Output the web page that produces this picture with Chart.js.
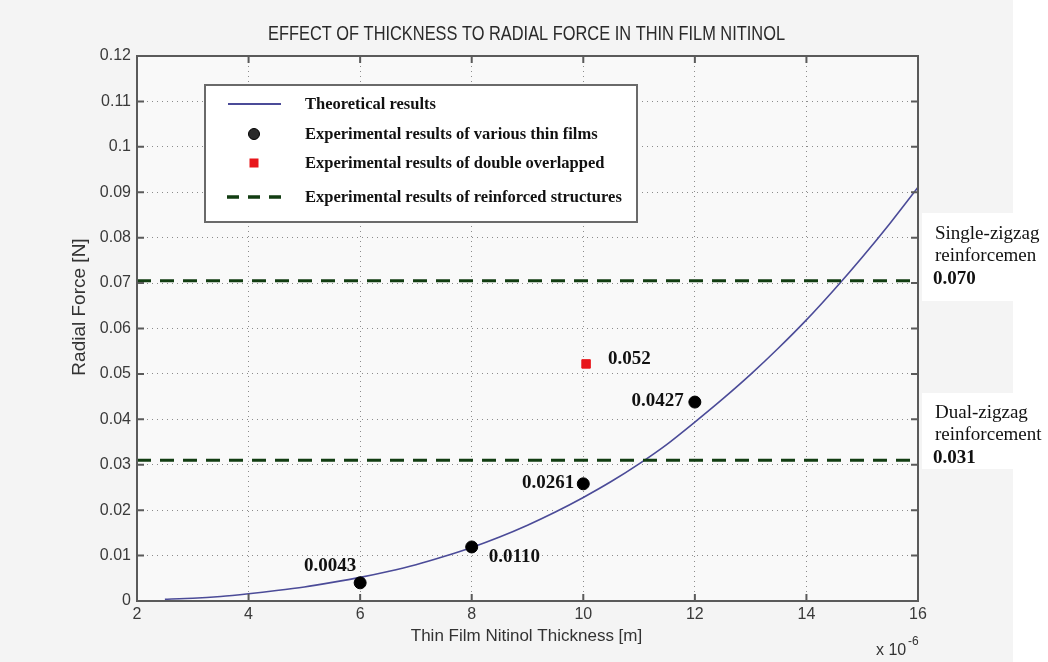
<!DOCTYPE html>
<html>
<head>
<meta charset="utf-8">
<script src="https://cdn.jsdelivr.net/npm/chart.js@4.4.1/dist/chart.umd.min.js"></script>
<style>
  html, body { margin: 0; padding: 0; background: #f4f4f4; }
  #c { display: block; }
</style>
</head>
<body>
<canvas id="c" width="1048" height="662"></canvas>
<script>
// ---------- data ----------
const chartTitle = 'EFFECT OF THICKNESS TO RADIAL FORCE IN THIN FILM NITINOL';
const xAxisTitle = 'Thin Film Nitinol Thickness [m]';
const yAxisTitle = 'Radial Force [N]';
const xExponent = '-6';

const xTickLabels = ['2', '4', '6', '8', '10', '12', '14', '16'];
const yTickLabels = ['0', '0.01', '0.02', '0.03', '0.04', '0.05', '0.06', '0.07', '0.08', '0.09', '0.1', '0.11', '0.12'];

// Theoretical curve (thickness in µm, force in N)
const theoryX = [2.5, 3, 3.5, 4, 4.5, 5, 5.5, 6, 6.5, 7, 7.5, 8, 8.5, 9, 9.5, 10, 10.5, 11, 11.5, 12, 12.5, 13, 13.5, 14, 14.5, 15, 15.5, 16];
const theoryY = [0.0004, 0.0006, 0.0010, 0.0016, 0.0023, 0.0031, 0.0041, 0.0052, 0.0065, 0.0080, 0.0098, 0.0118, 0.0141, 0.0167, 0.0196, 0.0228, 0.0263, 0.0302, 0.0345, 0.0394, 0.0445, 0.0499, 0.0557, 0.0619, 0.0686, 0.0757, 0.0832, 0.0911];

// Experimental results of various thin films
const filmX = [6, 8, 10, 12];
const filmY = [0.0040, 0.0119, 0.0258, 0.0438];
const filmLabels = ['0.0043', '0.0110', '0.0261', '0.0427'];

// Experimental result of double overlapped
const doubleX = [10.05];
const doubleY = [0.0522];
const doubleLabels = ['0.052'];

// Reinforced structures (horizontal levels)
const reinforcedNames = [['Single-zigzag', 'reinforcemen'], ['Dual-zigzag', 'reinforcement']];
const reinforcedY = [0.0705, 0.031];
const reinforcedLabels = ['0.070', '0.031'];
const reinforcedSpan = [2, 16];

const legendLabels = [
  'Theoretical results',
  'Experimental results of various thin films',
  'Experimental results of double overlapped',
  'Experimental results of reinforced structures'
];

// ---------- styles ----------
const curveColor = '#4b4b98';
const dashColor = '#123d12';
const redColor = '#e8161b';
const sansFont = '"Liberation Sans", Arial, sans-serif';
const serifFont = '"Liberation Serif", "Times New Roman", serif';

// label placement relative to the mark: [dx, dy, align]
const filmLabelPlace = [[-4, -17, 'right'], [17, 10, 'left'], [-9, -1, 'right'], [-11, -1, 'right']];
const doubleLabelPlace = [[22, -5, 'left']];

const pts = (xs, ys) => xs.map((x, i) => ({ x: x, y: ys[i] }));

const datasets = [
  { label: legendLabels[0], type: 'line', data: pts(theoryX, theoryY), borderColor: curveColor, borderWidth: 1.6, pointRadius: 0, fill: false, tension: 0.2, order: 3 },
  { label: legendLabels[1], type: 'scatter', data: pts(filmX, filmY), backgroundColor: '#000', borderColor: '#000', pointRadius: 6, order: 1 },
  { label: legendLabels[2], type: 'scatter', data: pts(doubleX, doubleY), backgroundColor: redColor, borderColor: redColor, pointStyle: 'rect', pointRadius: 6, order: 1 }
];
reinforcedY.forEach((yv, i) => {
  datasets.push({ label: legendLabels[3] + ' ' + i, type: 'line', data: reinforcedSpan.map(x => ({ x: x, y: yv })), borderColor: dashColor, borderWidth: 3, borderDash: [14, 9], pointRadius: 0, fill: false, order: 2 });
});

const decorPlugin = {
  id: 'decor',
  beforeDraw(chart) {
    const ctx = chart.ctx, a = chart.chartArea;
    ctx.save();
    ctx.fillStyle = '#f4f4f4';
    ctx.fillRect(0, 0, chart.width, chart.height);
    ctx.fillStyle = '#ffffff';
    ctx.fillRect(1013, 0, chart.width - 1013, chart.height);
    ctx.fillRect(922, 213, chart.width - 922, 88);
    ctx.fillRect(922, 393, chart.width - 922, 76);
    ctx.fillStyle = '#f9f9f9';
    ctx.fillRect(a.left, a.top, a.right - a.left, a.bottom - a.top);
    ctx.restore();
  },
  afterDatasetsDraw(chart) {
    const ctx = chart.ctx, a = chart.chartArea;
    const xs = chart.scales.x, ys = chart.scales.y;
    ctx.save();
    // frame
    ctx.strokeStyle = '#5a5a5a';
    ctx.lineWidth = 2;
    ctx.strokeRect(a.left, a.top, a.right - a.left, a.bottom - a.top);
    // inner ticks
    ctx.beginPath();
    xs.ticks.forEach(t => {
      const px = xs.getPixelForValue(t.value);
      ctx.moveTo(px, a.bottom); ctx.lineTo(px, a.bottom - 7);
      ctx.moveTo(px, a.top); ctx.lineTo(px, a.top + 7);
    });
    ys.ticks.forEach(t => {
      const py = ys.getPixelForValue(t.value);
      ctx.moveTo(a.left, py); ctx.lineTo(a.left + 7, py);
      ctx.moveTo(a.right, py); ctx.lineTo(a.right - 7, py);
    });
    ctx.stroke();

    // title
    ctx.fillStyle = '#2a2a2a';
    ctx.textBaseline = 'middle';
    ctx.textAlign = 'left';
    ctx.font = '20px ' + sansFont;
    const tw = ctx.measureText(chartTitle).width;
    const targetW = 517;
    ctx.save();
    ctx.translate(268, 34);
    ctx.scale(targetW / tw, 1);
    ctx.fillText(chartTitle, 0, 0);
    ctx.restore();

    // axis titles
    ctx.fillStyle = '#333';
    ctx.font = '17px ' + sansFont;
    ctx.textAlign = 'center';
    ctx.fillText(xAxisTitle, (a.left + a.right) / 2 - 1, 636);
    ctx.save();
    ctx.translate(80, 307);
    ctx.rotate(-Math.PI / 2);
    ctx.font = '19px ' + sansFont;
    ctx.fillText(yAxisTitle, 0, 0);
    ctx.restore();
    // exponent
    ctx.font = '16px ' + sansFont;
    ctx.textAlign = 'left';
    ctx.fillText('x 10', 876, 651);
    ctx.font = '12px ' + sansFont;
    ctx.fillText(xExponent, 908, 642);

    // data labels
    ctx.fillStyle = '#111';
    ctx.font = 'bold 19px ' + serifFont;
    filmLabels.forEach((lab, i) => {
      const px = xs.getPixelForValue(filmX[i]), py = ys.getPixelForValue(filmY[i]);
      const p = filmLabelPlace[i];
      ctx.textAlign = p[2];
      ctx.fillText(lab, px + p[0], py + p[1]);
    });
    doubleLabels.forEach((lab, i) => {
      const px = xs.getPixelForValue(doubleX[i]), py = ys.getPixelForValue(doubleY[i]);
      const p = doubleLabelPlace[i];
      ctx.textAlign = p[2];
      ctx.fillText(lab, px + p[0], py + p[1]);
    });

    // right-side reinforcement annotations
    reinforcedY.forEach((yv, i) => {
      const py = ys.getPixelForValue(yv);
      ctx.textAlign = 'left';
      ctx.font = '19px ' + serifFont;
      ctx.fillStyle = '#111';
      ctx.fillText(reinforcedNames[i][0], 935, py - 47);
      ctx.fillText(reinforcedNames[i][1], 935, py - 25);
      ctx.font = 'bold 19px ' + serifFont;
      ctx.fillText(reinforcedLabels[i], 933, py - 2);
    });

    // legend
    const L = { x: 205, y: 85, w: 432, h: 137 };
    ctx.fillStyle = '#ffffff';
    ctx.fillRect(L.x, L.y, L.w, L.h);
    ctx.strokeStyle = '#6a6a6a';
    ctx.lineWidth = 2;
    ctx.strokeRect(L.x, L.y, L.w, L.h);
    const rowsY = [104, 134, 163, 197];
    const sx0 = 228, sx1 = 281, sxc = 254;
    // line sample
    ctx.strokeStyle = curveColor; ctx.lineWidth = 2.2;
    ctx.beginPath(); ctx.moveTo(sx0, rowsY[0]); ctx.lineTo(sx1, rowsY[0]); ctx.stroke();
    // circle sample
    ctx.fillStyle = '#2a2a2a'; ctx.strokeStyle = '#000'; ctx.lineWidth = 1;
    ctx.beginPath(); ctx.arc(sxc, rowsY[1], 5.5, 0, Math.PI * 2); ctx.fill(); ctx.stroke();
    // square sample
    ctx.fillStyle = redColor;
    ctx.fillRect(sxc - 4.5, rowsY[2] - 4.5, 9, 9);
    // dashed sample
    ctx.strokeStyle = dashColor; ctx.lineWidth = 3.5;
    ctx.setLineDash([12, 9]);
    ctx.beginPath(); ctx.moveTo(sx0 - 1, rowsY[3]); ctx.lineTo(sx1 + 2, rowsY[3]); ctx.stroke();
    ctx.setLineDash([]);
    ctx.fillStyle = '#111';
    ctx.font = 'bold 16.5px ' + serifFont;
    ctx.textAlign = 'left';
    legendLabels.forEach((lab, i) => ctx.fillText(lab, 305, rowsY[i] + 1));
    ctx.restore();
  }
};

new Chart(document.getElementById('c'), {
  type: 'scatter',
  data: { datasets: datasets },
  options: {
    responsive: false,
    devicePixelRatio: 1,
    animation: false,
    layout: { padding: { left: 0, top: 56, right: 130, bottom: 0 } },
    plugins: { legend: { display: false }, tooltip: { enabled: false }, title: { display: false } },
    scales: {
      x: {
        type: 'linear', min: 2, max: 16,
        afterFit: s => { s.height = 61; },
        afterBuildTicks: s => { s.ticks = xTickLabels.map(v => ({ value: Number(v) })); },
        ticks: { callback: (v, i) => xTickLabels[i], color: '#3a3a3a', font: { family: sansFont, size: 16 }, padding: 4, maxRotation: 0, autoSkip: false },
        grid: { color: '#8c8c8c', lineWidth: 1, drawTicks: false },
        border: { display: false, dash: [1, 4] }
      },
      y: {
        type: 'linear', min: 0, max: 0.12,
        afterFit: s => { s.width = 137; },
        afterBuildTicks: s => { s.ticks = yTickLabels.map(v => ({ value: Number(v) })); },
        ticks: { callback: (v, i) => yTickLabels[i], color: '#3a3a3a', font: { family: sansFont, size: 16 }, padding: 6, autoSkip: false },
        grid: { color: '#8c8c8c', lineWidth: 1, drawTicks: false },
        border: { display: false, dash: [1, 4] }
      }
    }
  },
  plugins: [decorPlugin]
});
</script>
</body>
</html>
